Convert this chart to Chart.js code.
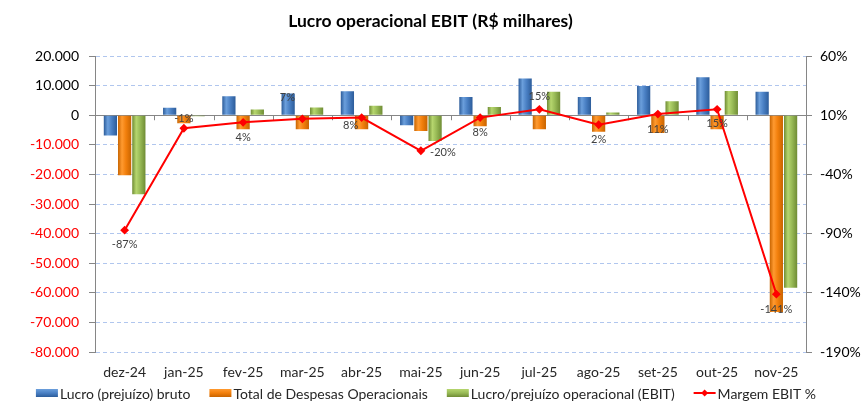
<!DOCTYPE html>
<html>
<head>
<meta charset="utf-8">
<script src="https://cdn.jsdelivr.net/npm/chart.js@4.4.1/dist/chart.umd.min.js"></script>
<style>
  html, body { margin: 0; padding: 0; background: #fff; }
  #wrap { width: 861px; height: 401px; }
</style>
</head>
<body>
<div id="wrap"><canvas id="grafico"></canvas></div>
<script>
const meses = ['dez-24', 'jan-25', 'fev-25', 'mar-25', 'abr-25', 'mai-25', 'jun-25', 'jul-25', 'ago-25', 'set-25', 'out-25', 'nov-25'];
const lucroBruto = [-6800, 2500, 6400, 7300, 8100, -3400, 6200, 12400, 6200, 9900, 12800, 7900];
const despesas = [-20300, -2700, -4700, -4700, -4700, -5300, -3700, -4700, -5600, -6000, -4700, -66400];
const ebit = [-26700, -300, 1900, 2600, 3200, -8700, 2800, 7900, 900, 4700, 8200, -58200];
const margem = [-87, -1, 4, 7, 8, -20, 8, 15, 2, 11, 15, -141];

const fonte = 'Lato, "Open Sans", sans-serif';

// cores das barras: borda escura, meio, brilho
const cores = {
    azul: ['#2c5c9a', '#4a80c4', '#6b9fdc'],
    laranja: ['#c86400', '#f27f0c', '#ff9a30'],
    verde: ['#6f8c34', '#98ba56', '#b6d66e']
};

// onde fica o rotulo de cada ponto da margem (dx, dy)
const posRotulo = [[0, 14], [0, -10], [0, 15], [-15, -21], [-11, 8], [22, 2], [0, 15], [0, -13], [0, 15], [0, 15], [0, 14], [0, 15]];

function milhar(v) {
    const s = Math.abs(v).toString().replace(/\B(?=(\d{3})+(?!\d))/g, '.');
    return (v < 0 ? '-' : '') + s;
}

function degrade(ctx, esq, dir, c) {
    const g = ctx.createLinearGradient(esq, 0, dir, 0);
    g.addColorStop(0, c[0]);
    g.addColorStop(0.3, c[2]);
    g.addColorStop(0.6, c[1]);
    g.addColorStop(1, c[0]);
    return g;
}

const bevel = {
    id: 'bevel',
    beforeDatasetsDraw(chart) {
        const ctx = chart.ctx;
        chart.data.datasets.forEach(function (ds, i) {
            if (ds.type === 'line') return;
            chart.getDatasetMeta(i).data.forEach(function (bar) {
                const g = degrade(ctx, bar.x - bar.width / 2, bar.x + bar.width / 2, ds.cores);
                bar.options = Object.assign({}, bar.options, { backgroundColor: g });
            });
        });
    }
};

const extras = {
    id: 'extras',
    beforeDatasetsDraw(chart) {
        // marcas do eixo de categorias na linha do zero
        const ctx = chart.ctx;
        const y0 = chart.scales.y.getPixelForValue(0);
        const passo = (chart.chartArea.right - chart.chartArea.left) / meses.length;
        ctx.save();
        ctx.strokeStyle = '#868686';
        ctx.lineWidth = 1;
        ctx.beginPath();
        for (let i = 1; i < meses.length; i++) {
            const px = Math.round(chart.chartArea.left + passo * i) + 0.5;
            ctx.moveTo(px, y0);
            ctx.lineTo(px, y0 + 5);
        }
        ctx.stroke();
        ctx.restore();
    },
    afterDatasetsDraw(chart) {
        const ctx = chart.ctx;
        const meta = chart.getDatasetMeta(3);
        ctx.save();
        ctx.font = '11px ' + fonte;
        ctx.fillStyle = '#404040';
        ctx.textAlign = 'center';
        ctx.textBaseline = 'middle';
        meta.data.forEach(function (p, i) {
            ctx.fillText(margem[i] + '%', p.x + posRotulo[i][0], p.y + posRotulo[i][1]);
        });
        ctx.restore();
    },
    afterDraw(chart) {
        // legenda
        const ctx = chart.ctx;
        const itens = chart.data.datasets;
        ctx.save();
        ctx.font = '14px ' + fonte;
        ctx.textBaseline = 'middle';
        const caixa = 22, gap = 2, entre = 19;
        let total = 0;
        itens.forEach(function (ds, i) {
            total += caixa + gap + ctx.measureText(ds.label).width + (i < itens.length - 1 ? entre : 0);
        });
        let x = 426 - total / 2;
        const y = 393;
        itens.forEach(function (ds) {
            if (ds.type === 'line') {
                ctx.strokeStyle = '#ff0000';
                ctx.lineWidth = 2;
                ctx.beginPath();
                ctx.moveTo(x, y);
                ctx.lineTo(x + caixa, y);
                ctx.stroke();
                ctx.fillStyle = '#ff0000';
                ctx.beginPath();
                ctx.moveTo(x + caixa / 2, y - 3.5);
                ctx.lineTo(x + caixa / 2 + 3.5, y);
                ctx.lineTo(x + caixa / 2, y + 3.5);
                ctx.lineTo(x + caixa / 2 - 3.5, y);
                ctx.closePath();
                ctx.fill();
            } else {
                const g = ctx.createLinearGradient(0, y - 4, 0, y + 4);
                g.addColorStop(0, ds.cores[2]);
                g.addColorStop(0.5, ds.cores[1]);
                g.addColorStop(1, ds.cores[0]);
                ctx.fillStyle = g;
                ctx.fillRect(x, y - 4, caixa, 8);
            }
            x += caixa + gap;
            ctx.fillStyle = '#262626';
            ctx.fillText(ds.label, x, y + 1);
            x += ctx.measureText(ds.label).width + entre;
        });
        ctx.restore();
    }
};

const config = {
    type: 'bar',
    data: {
        labels: meses,
        datasets: [
            { label: 'Lucro (prejuízo) bruto', data: lucroBruto, cores: cores.azul, backgroundColor: cores.azul[1], yAxisID: 'y', order: 2 },
            { label: 'Total de Despesas Operacionais', data: despesas, cores: cores.laranja, backgroundColor: cores.laranja[1], yAxisID: 'y', order: 2 },
            { label: 'Lucro/prejuízo operacional (EBIT)', data: ebit, cores: cores.verde, backgroundColor: cores.verde[1], yAxisID: 'y', order: 2 },
            {
                type: 'line', label: 'Margem EBIT %', data: margem, yAxisID: 'y2', order: 1,
                borderColor: '#ff0000', backgroundColor: '#ff0000', borderWidth: 2,
                pointStyle: 'rectRot', pointRadius: 3, pointBackgroundColor: '#ff0000', pointBorderColor: '#ff0000'
            }
        ]
    },
    options: {
        responsive: true,
        maintainAspectRatio: false,
        animation: false,
        datasets: { bar: { barPercentage: 0.93, categoryPercentage: 0.72 } },
        layout: { padding: { left: 0, right: 0, top: 0, bottom: 16 } },
        plugins: {
            legend: { display: false },
            tooltip: { enabled: false },
            title: {
                display: true,
                text: 'Lucro operacional EBIT (R$ milhares)',
                color: '#000',
                font: { family: fonte, size: 17.5, weight: 'bold' },
                padding: { top: 11, bottom: 24 }
            }
        },
        scales: {
            x: {
                grid: { display: false },
                border: { display: false },
                ticks: { color: '#262626', font: { family: fonte, size: 14 }, padding: 4, maxRotation: 0 }
            },
            y: {
                position: 'left',
                min: -80000, max: 20000,
                afterFit: function (s) { s.width = 95; },
                ticks: {
                    stepSize: 10000,
                    padding: 10,
                    font: { family: fonte, size: 14 },
                    color: function (c) { return c.tick.value < 0 ? '#ff0000' : '#000'; },
                    callback: function (v) { return milhar(v); }
                },
                grid: {
                    color: function (c) { return c.tick && c.tick.value === 0 ? '#868686' : '#b0c6ee'; },
                    tickColor: '#868686',
                    tickLength: 6
                },
                border: {
                    color: '#868686',
                    dash: function (c) { return c.tick && c.tick.value !== 0 ? [4, 3] : []; }
                }
            },
            y2: {
                position: 'right',
                min: -190, max: 60,
                afterFit: function (s) { s.width = 55; },
                ticks: {
                    stepSize: 50,
                    padding: 8,
                    font: { family: fonte, size: 14 },
                    color: '#000',
                    callback: function (v) { return v + '%'; }
                },
                grid: { drawOnChartArea: false, tickColor: '#868686', tickLength: 6 },
                border: { color: '#868686' }
            }
        }
    },
    plugins: [bevel, extras]
};

const grafico = new Chart(document.getElementById('grafico'), config);
</script>
</body>
</html>
